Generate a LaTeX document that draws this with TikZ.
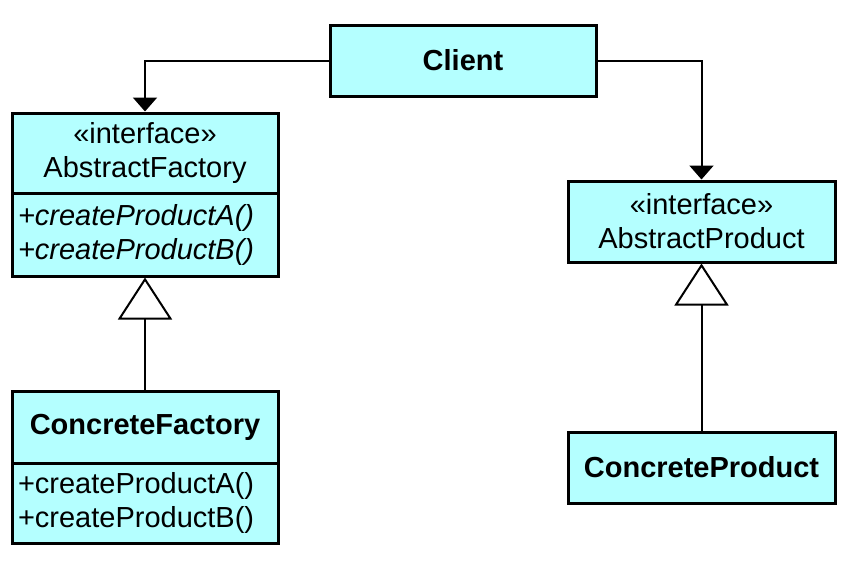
\documentclass[tikz,border=0pt]{standalone}
\usepackage{fontspec}
\setmainfont{Liberation Sans}
\usetikzlibrary{arrows.meta}
\definecolor{boxfill}{RGB}{180,255,255}
\begin{document}
\begin{tikzpicture}[x=1pt,y=-1pt,
  box/.style={draw, line width=3pt, fill=boxfill, rectangle, inner sep=0pt,
    font=\fontsize{29}{34}\selectfont, align=center},
  ops/.style={box, align=left, inner xsep=6pt, text width=254pt},
  conn/.style={draw, line width=2pt},
  assoc/.style={conn, -{Triangle[width=24pt,length=14pt]}},
  gen/.style={conn, -{Triangle[width=54pt,length=42pt,fill=white]}}]
\useasboundingbox (0,0) rectangle (859,582);

\node[box, minimum width=266pt, minimum height=71pt] (client) at (463,60.5) {\textbf{Client}};

\node[box, minimum width=266pt, minimum height=80pt] (af) at (145,153) {«interface»\\AbstractFactory};
\node[ops, minimum height=83pt] (afops) at (145,234.5) {\itshape +createProductA()\\\itshape +createProductB()};

\node[box, minimum width=267pt, minimum height=81pt] (ap) at (701.5,221.5) {«interface»\\AbstractProduct};

\node[box, minimum width=266pt, minimum height=72pt] (cf) at (145,427) {\textbf{ConcreteFactory}};
\node[ops, minimum height=80pt] (cfops) at (145,503) {+createProductA()\\+createProductB()};

\node[box, minimum width=267pt, minimum height=71pt] (cp) at (701.5,467.5) {\textbf{ConcreteProduct}};

\draw[assoc] (client.west) -| (af.north);
\draw[assoc] (client.east) -| (ap.north);
\draw[gen] (cf.north) -- (afops.south);
\draw[gen] (cp.north) -- (ap.south);
\end{tikzpicture}
\end{document}
